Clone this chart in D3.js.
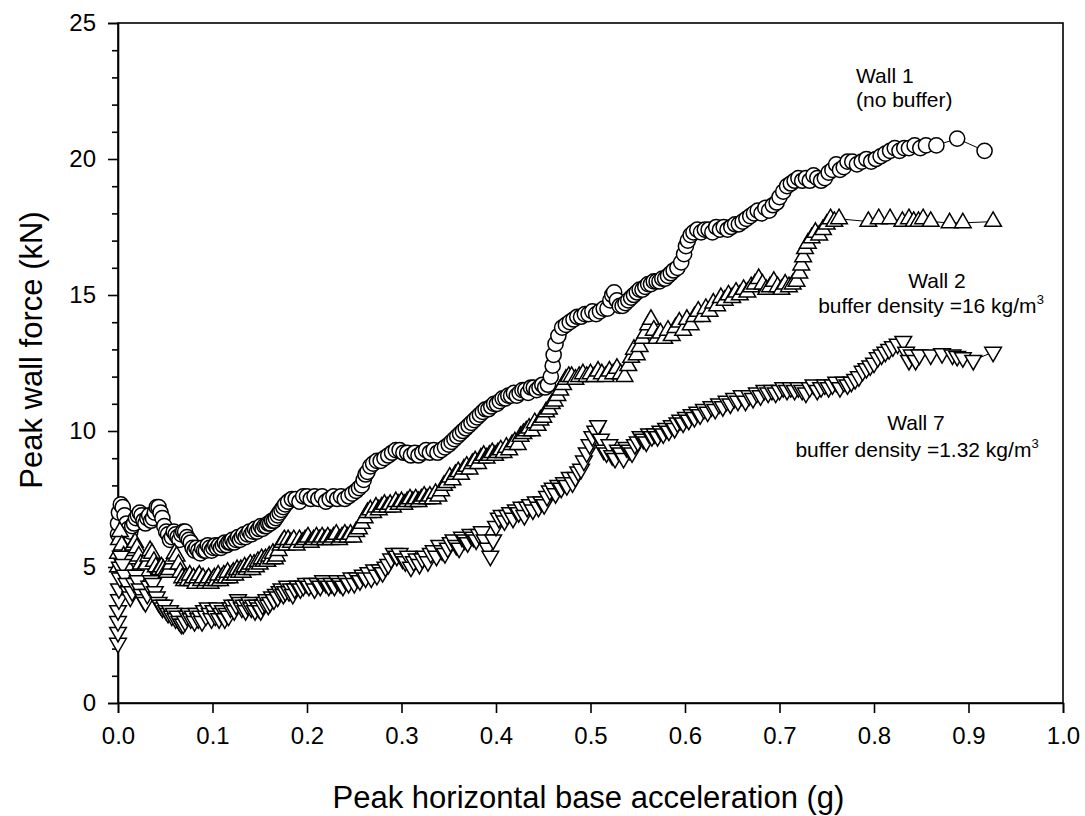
<!DOCTYPE html>
<meta charset="utf-8">
<style>
body { margin: 0; background: #fff; }
text { font-family: "Liberation Sans", Arial, sans-serif; fill: #000; }
.axis text { font-size: 24px; }
.axis path, .axis line { stroke: #000; stroke-width: 1.6; }
.note { font-size: 21px; }
.title { font-size: 31px; }
</style>
<svg width="1085" height="816"></svg>
<script src="https://d3js.org/d3.v7.min.js"></script>
<script>

// [peak base acceleration (g), peak wall force (kN)]

// Wall 1 (no buffer)
var wall1Data = [[0,6.2],[0,6.6],[0.001,7.0],[0.003,7.3],[0.005,7.2],[0.007,6.9],[0.009,6.6],[0.011,6.4],[0.013,6.3],[0.015,6.5],
  [0.017,6.6],[0.019,6.8],[0.021,6.9],[0.023,7.0],[0.025,6.9],[0.027,6.7],[0.029,6.6],[0.031,6.8],[0.033,6.9],[0.035,6.7],
  [0.037,6.8],[0.039,7.0],[0.041,7.2],[0.043,7.2],[0.045,7.0],[0.047,6.8],[0.049,6.5],[0.051,6.3],[0.053,6.2],[0.055,6.0],
  [0.057,6.1],[0.059,6.3],[0.061,6.2],[0.063,6.1],[0.065,6.0],[0.067,6.2],[0.069,6.3],[0.071,6.3],[0.073,6.1],[0.075,6.0],
  [0.077,5.9],[0.079,5.7],[0.081,5.6],[0.083,5.7],[0.085,5.6],[0.087,5.5],[0.089,5.7],[0.091,5.6],[0.093,5.6],[0.095,5.8],
  [0.097,5.7],[0.099,5.6],[0.101,5.7],[0.103,5.8],[0.105,5.7],[0.107,5.8],[0.109,5.7],[0.111,5.8],[0.113,5.9],[0.115,5.8],
  [0.117,5.9],[0.119,5.9],[0.121,6.0],[0.123,5.9],[0.125,6.0],[0.127,6.1],[0.129,6.0],[0.131,6.1],[0.133,6.2],[0.135,6.1],
  [0.137,6.2],[0.139,6.3],[0.141,6.2],[0.143,6.3],[0.145,6.4],[0.147,6.3],[0.149,6.4],[0.151,6.5],[0.153,6.4],[0.155,6.5],
  [0.157,6.5],[0.159,6.6],[0.161,6.6],[0.163,6.7],[0.165,6.7],[0.167,6.8],[0.169,6.9],[0.171,7.0],[0.173,7.1],[0.175,7.2],
  [0.177,7.3],[0.180,7.4],[0.184,7.5],[0.188,7.5],[0.192,7.4],[0.196,7.6],[0.2,7.6],[0.204,7.5],[0.208,7.6],[0.212,7.5],
  [0.216,7.6],[0.22,7.4],[0.224,7.5],[0.228,7.6],[0.232,7.5],[0.236,7.6],[0.24,7.5],[0.244,7.6],[0.248,7.7],[0.252,7.8],
  [0.255,7.9],[0.258,8.0],[0.26,8.2],[0.262,8.4],[0.264,8.5],[0.267,8.7],[0.27,8.8],[0.274,8.9],[0.278,8.9],[0.282,9.0],
  [0.286,9.1],[0.29,9.2],[0.294,9.3],[0.298,9.3],[0.302,9.2],[0.306,9.2],[0.31,9.1],[0.314,9.2],[0.318,9.1],[0.322,9.2],
  [0.326,9.3],[0.33,9.2],[0.334,9.3],[0.338,9.2],[0.342,9.3],[0.346,9.4],[0.35,9.5],[0.353,9.6],[0.356,9.7],[0.359,9.8],
  [0.362,9.9],[0.365,10.0],[0.368,10.1],[0.371,10.2],[0.374,10.3],[0.377,10.4],[0.38,10.5],[0.383,10.6],[0.386,10.7],[0.389,10.8],
  [0.392,10.8],[0.395,10.9],[0.398,11.0],[0.401,11.0],[0.404,11.1],[0.407,11.2],[0.41,11.2],[0.413,11.3],[0.416,11.3],[0.419,11.4],
  [0.422,11.3],[0.425,11.4],[0.428,11.5],[0.431,11.5],[0.434,11.4],[0.437,11.6],[0.44,11.6],[0.443,11.5],[0.446,11.6],[0.449,11.7],
  [0.452,11.6],[0.455,11.7],[0.458,12.0],[0.46,12.4],[0.461,12.8],[0.463,13.2],[0.466,13.5],[0.47,13.8],[0.474,13.9],[0.478,14.0],
  [0.482,14.1],[0.486,14.2],[0.49,14.2],[0.494,14.3],[0.498,14.3],[0.502,14.4],[0.506,14.3],[0.51,14.4],[0.514,14.5],[0.518,14.5],
  [0.521,14.8],[0.523,15.0],[0.525,15.1],[0.528,14.8],[0.531,14.6],[0.534,14.6],[0.537,14.7],[0.54,14.8],[0.543,14.9],[0.546,15.0],
  [0.549,15.1],[0.552,15.2],[0.555,15.2],[0.558,15.3],[0.561,15.4],[0.564,15.4],[0.567,15.5],[0.57,15.5],[0.573,15.5],[0.576,15.6],
  [0.579,15.6],[0.582,15.7],[0.585,15.8],[0.588,15.9],[0.592,16.0],[0.596,16.2],[0.599,16.5],[0.601,16.8],[0.603,17.0],[0.606,17.2],
  [0.609,17.3],[0.613,17.4],[0.617,17.3],[0.621,17.4],[0.625,17.4],[0.629,17.3],[0.633,17.5],[0.637,17.4],[0.641,17.5],[0.645,17.4],
  [0.649,17.5],[0.653,17.6],[0.657,17.6],[0.661,17.7],[0.665,17.8],[0.669,17.9],[0.673,18.0],[0.677,18.1],[0.681,18.0],[0.685,18.2],
  [0.689,18.1],[0.693,18.3],[0.697,18.4],[0.7,18.6],[0.704,18.8],[0.708,19.0],[0.712,19.1],[0.716,19.2],[0.72,19.3],[0.724,19.2],
  [0.728,19.3],[0.732,19.2],[0.736,19.4],[0.74,19.3],[0.744,19.2],[0.748,19.3],[0.752,19.5],[0.756,19.6],[0.76,19.8],[0.764,19.6],
  [0.768,19.7],[0.772,19.9],[0.777,19.9],[0.782,19.8],[0.787,19.9],[0.792,20.0],[0.797,19.9],[0.802,20.0],[0.807,20.1],[0.812,20.2],
  [0.817,20.3],[0.822,20.4],[0.827,20.3],[0.832,20.4],[0.837,20.4],[0.843,20.5],[0.849,20.4],[0.855,20.5],[0.866,20.5],[0.888,20.75],
  [0.917,20.3]];

// Wall 2 (buffer density 16 kg/m3)
var wall2Data = [[0,5.0],[0,5.5],[0.001,6.0],[0.002,6.3],[0.004,5.8],[0.006,5.4],[0.008,5.1],[0.01,5.0],[0.012,5.3],[0.014,5.6],
  [0.016,5.8],[0.018,5.9],[0.02,5.7],[0.022,5.4],[0.024,5.1],[0.026,4.9],[0.028,4.8],[0.03,5.1],[0.032,5.4],[0.034,5.6],
  [0.036,5.5],[0.038,5.2],[0.04,5.0],[0.042,4.8],[0.044,4.9],[0.046,5.0],[0.048,4.9],[0.05,4.8],[0.052,4.8],[0.054,4.9],
  [0.056,5.1],[0.058,5.3],[0.06,5.5],[0.062,5.4],[0.064,5.1],[0.066,4.8],[0.068,4.6],[0.07,4.5],[0.072,4.6],[0.074,4.5],
  [0.076,4.7],[0.078,4.5],[0.08,4.6],[0.082,4.4],[0.084,4.6],[0.086,4.7],[0.088,4.5],[0.09,4.6],[0.092,4.4],[0.094,4.5],
  [0.096,4.6],[0.098,4.4],[0.1,4.5],[0.102,4.6],[0.104,4.5],[0.106,4.7],[0.108,4.5],[0.11,4.6],[0.112,4.7],[0.114,4.6],
  [0.116,4.8],[0.118,4.6],[0.12,4.7],[0.122,4.8],[0.124,4.7],[0.126,4.9],[0.128,4.8],[0.13,4.9],[0.132,4.8],[0.134,5.0],
  [0.136,4.9],[0.138,5.0],[0.14,5.1],[0.142,4.9],[0.144,5.1],[0.146,5.0],[0.148,5.2],[0.15,5.1],[0.152,5.3],[0.154,5.2],
  [0.156,5.3],[0.158,5.2],[0.16,5.4],[0.162,5.3],[0.164,5.5],[0.166,5.3],[0.168,5.4],[0.17,5.6],[0.172,5.8],[0.174,5.9],
  [0.176,6.0],[0.178,5.8],[0.18,6.0],[0.183,5.9],[0.186,6.0],[0.189,5.8],[0.192,6.0],[0.195,5.9],[0.198,6.0],[0.201,6.1],
  [0.204,5.9],[0.207,6.0],[0.21,6.1],[0.213,6.0],[0.216,6.1],[0.219,6.0],[0.222,6.1],[0.225,6.0],[0.228,6.1],[0.231,6.2],
  [0.234,6.0],[0.237,6.1],[0.24,6.2],[0.243,6.1],[0.246,6.2],[0.249,6.1],[0.252,6.3],[0.255,6.4],[0.258,6.6],[0.261,6.8],
  [0.264,7.0],[0.267,7.1],[0.27,7.0],[0.273,7.2],[0.276,7.1],[0.279,7.2],[0.282,7.3],[0.285,7.2],[0.288,7.3],[0.291,7.2],
  [0.294,7.4],[0.297,7.3],[0.3,7.4],[0.303,7.3],[0.306,7.4],[0.309,7.5],[0.312,7.4],[0.315,7.5],[0.318,7.4],[0.321,7.5],
  [0.324,7.6],[0.327,7.5],[0.33,7.6],[0.333,7.5],[0.336,7.7],[0.339,7.6],[0.342,7.8],[0.345,8.0],[0.348,8.1],[0.351,8.3],
  [0.354,8.2],[0.357,8.4],[0.36,8.5],[0.363,8.4],[0.366,8.6],[0.369,8.7],[0.372,8.6],[0.375,8.8],[0.378,8.9],[0.381,8.8],
  [0.384,9.0],[0.387,9.1],[0.39,9.0],[0.393,9.1],[0.396,9.2],[0.399,9.1],[0.402,9.2],[0.405,9.3],[0.408,9.2],[0.411,9.4],
  [0.414,9.3],[0.417,9.5],[0.42,9.6],[0.423,9.5],[0.426,9.8],[0.429,9.9],[0.432,10.0],[0.435,10.1],[0.438,10.0],[0.441,10.3],
  [0.444,10.2],[0.447,10.4],[0.45,10.5],[0.453,10.7],[0.456,10.8],[0.459,11.0],[0.462,11.1],[0.465,11.3],[0.468,11.5],[0.471,11.7],
  [0.474,11.9],[0.477,12.0],[0.48,12.0],[0.484,11.9],[0.488,12.0],[0.492,12.1],[0.496,12.0],[0.5,12.1],[0.504,12.0],[0.508,12.2],
  [0.512,12.1],[0.516,12.0],[0.52,12.2],[0.524,12.1],[0.528,12.3],[0.532,12.1],[0.536,12.0],[0.54,12.4],[0.543,12.7],[0.546,13.0],
  [0.549,12.8],[0.552,13.1],[0.555,13.4],[0.558,13.6],[0.561,13.9],[0.564,14.1],[0.567,13.7],[0.57,13.4],[0.574,13.6],[0.578,13.4],
  [0.582,13.7],[0.586,13.5],[0.59,13.8],[0.594,14.0],[0.598,13.7],[0.602,14.1],[0.606,13.9],[0.61,14.2],[0.614,14.4],[0.618,14.2],
  [0.622,14.5],[0.626,14.4],[0.63,14.7],[0.634,14.6],[0.638,14.9],[0.642,14.8],[0.646,15.0],[0.65,14.9],[0.654,15.1],[0.658,15.0],
  [0.662,15.2],[0.666,15.1],[0.67,15.3],[0.674,15.4],[0.678,15.6],[0.682,15.4],[0.686,15.2],[0.69,15.3],[0.694,15.5],[0.698,15.3],
  [0.702,15.2],[0.706,15.4],[0.71,15.3],[0.714,15.4],[0.718,15.5],[0.721,15.8],[0.723,16.1],[0.725,16.4],[0.727,16.7],[0.73,16.9],
  [0.734,17.1],[0.738,17.3],[0.742,17.2],[0.746,17.4],[0.75,17.6],[0.754,17.8],[0.758,17.7],[0.763,17.8],[0.794,17.7],[0.805,17.8],
  [0.817,17.8],[0.83,17.7],[0.837,17.8],[0.842,17.7],[0.847,17.7],[0.852,17.8],[0.86,17.7],[0.88,17.65],[0.894,17.65],[0.926,17.7]];

// Wall 7 (buffer density 1.32 kg/m3)
var wall7Data = [[0,2.2],[0,2.6],[0,3.0],[0,3.4],[0.001,3.8],[0.001,4.2],[0.002,4.6],[0.002,5.0],[0.003,5.4],[0.005,5.1],
  [0.007,4.7],[0.009,4.4],[0.011,4.1],[0.013,3.9],[0.015,4.1],[0.017,4.4],[0.019,4.7],[0.021,4.5],[0.023,4.2],[0.025,4.0],
  [0.027,3.8],[0.029,3.7],[0.031,4.0],[0.033,4.3],[0.035,4.5],[0.037,4.4],[0.039,4.1],[0.041,3.9],[0.043,3.7],[0.045,3.6],
  [0.047,3.5],[0.049,3.6],[0.051,3.4],[0.053,3.3],[0.055,3.4],[0.057,3.2],[0.059,3.3],[0.061,3.1],[0.063,3.2],[0.065,3.0],
  [0.067,2.9],[0.069,2.9],[0.071,3.0],[0.073,3.2],[0.075,3.3],[0.077,3.1],[0.079,3.2],[0.081,3.0],[0.083,3.3],[0.085,3.1],
  [0.087,3.2],[0.089,3.0],[0.091,3.4],[0.093,3.2],[0.095,3.5],[0.097,3.3],[0.099,3.1],[0.101,3.4],[0.103,3.2],[0.105,3.5],
  [0.107,3.1],[0.109,3.3],[0.111,3.4],[0.113,3.1],[0.115,3.3],[0.117,3.2],[0.119,3.5],[0.121,3.6],[0.123,3.4],[0.125,3.6],
  [0.127,3.8],[0.129,3.7],[0.131,3.5],[0.133,3.6],[0.135,3.4],[0.137,3.6],[0.139,3.7],[0.141,3.5],[0.143,3.6],[0.145,3.4],
  [0.147,3.6],[0.149,3.5],[0.151,3.4],[0.153,3.6],[0.155,3.7],[0.157,3.8],[0.159,3.6],[0.161,3.7],[0.163,3.9],[0.165,3.8],
  [0.167,4.0],[0.169,3.9],[0.171,4.1],[0.173,4.2],[0.175,4.0],[0.177,4.1],[0.179,4.3],[0.181,4.1],[0.183,4.2],[0.185,4.0],
  [0.187,4.2],[0.19,4.3],[0.193,4.2],[0.196,4.3],[0.199,4.4],[0.202,4.3],[0.205,4.4],[0.208,4.2],[0.211,4.4],[0.214,4.3],
  [0.217,4.5],[0.22,4.4],[0.223,4.3],[0.226,4.4],[0.229,4.3],[0.232,4.5],[0.235,4.4],[0.238,4.3],[0.241,4.5],[0.244,4.4],
  [0.247,4.6],[0.25,4.4],[0.253,4.6],[0.256,4.5],[0.259,4.7],[0.262,4.6],[0.265,4.8],[0.268,4.6],[0.271,4.9],[0.274,4.7],
  [0.277,4.9],[0.28,4.8],[0.283,5.0],[0.286,5.1],[0.289,5.3],[0.292,5.5],[0.295,5.4],[0.298,5.5],[0.301,5.3],[0.304,5.2],
  [0.307,5.4],[0.31,5.0],[0.313,5.2],[0.316,5.3],[0.319,5.1],[0.322,5.3],[0.325,5.4],[0.328,5.2],[0.331,5.5],[0.334,5.6],
  [0.337,5.4],[0.34,5.8],[0.343,5.6],[0.346,5.5],[0.349,5.7],[0.352,5.9],[0.355,6.0],[0.358,5.8],[0.361,5.7],[0.364,6.1],
  [0.367,6.0],[0.37,5.9],[0.373,6.2],[0.376,6.1],[0.379,6.0],[0.382,6.2],[0.385,6.3],[0.388,6.0],[0.391,5.7],[0.394,5.4],
  [0.397,6.0],[0.4,6.5],[0.403,6.8],[0.406,6.9],[0.409,6.7],[0.412,6.9],[0.415,7.0],[0.418,6.8],[0.421,7.1],[0.424,7.0],
  [0.427,7.2],[0.43,6.9],[0.433,7.2],[0.436,7.3],[0.439,7.1],[0.442,7.4],[0.445,7.2],[0.448,7.4],[0.451,7.3],[0.454,7.6],
  [0.457,7.8],[0.46,7.9],[0.463,7.7],[0.466,8.0],[0.469,7.9],[0.472,8.1],[0.475,8.0],[0.478,8.3],[0.481,8.1],[0.484,8.3],
  [0.487,8.5],[0.49,8.6],[0.493,8.9],[0.496,9.2],[0.499,9.5],[0.502,9.8],[0.505,10.0],[0.508,10.2],[0.511,9.7],[0.514,9.3],
  [0.517,9.2],[0.52,9.5],[0.523,9.1],[0.526,9.0],[0.529,9.3],[0.532,9.2],[0.535,9.0],[0.538,9.4],[0.541,9.3],[0.544,9.2],
  [0.547,9.5],[0.55,9.6],[0.553,9.8],[0.556,9.7],[0.559,9.6],[0.562,9.9],[0.565,9.8],[0.568,9.9],[0.571,9.8],[0.574,10.0],
  [0.577,9.9],[0.58,10.1],[0.583,10.0],[0.586,10.2],[0.589,10.1],[0.592,10.3],[0.595,10.4],[0.598,10.3],[0.601,10.5],[0.604,10.4],
  [0.607,10.6],[0.61,10.5],[0.613,10.7],[0.616,10.6],[0.62,10.8],[0.624,10.7],[0.628,10.9],[0.632,10.8],[0.636,11.0],[0.64,10.9],
  [0.644,11.1],[0.648,11.0],[0.652,11.2],[0.656,11.1],[0.66,11.3],[0.664,11.1],[0.668,11.3],[0.672,11.2],[0.676,11.4],[0.68,11.3],
  [0.684,11.5],[0.688,11.4],[0.692,11.5],[0.696,11.4],[0.7,11.5],[0.704,11.6],[0.708,11.5],[0.712,11.6],[0.716,11.5],[0.72,11.6],
  [0.724,11.5],[0.728,11.4],[0.732,11.6],[0.736,11.7],[0.74,11.5],[0.744,11.6],[0.748,11.7],[0.752,11.6],[0.756,11.7],[0.76,11.8],
  [0.764,11.6],[0.768,11.8],[0.772,11.7],[0.776,11.8],[0.78,11.9],[0.784,12.0],[0.788,12.2],[0.792,12.3],[0.796,12.4],[0.8,12.5],
  [0.804,12.7],[0.808,12.8],[0.812,12.9],[0.816,13.0],[0.82,13.1],[0.825,13.2],[0.831,13.3],[0.834,12.9],[0.837,12.6],[0.84,12.8],
  [0.844,12.6],[0.848,12.8],[0.86,12.8],[0.872,12.85],[0.883,12.8],[0.888,12.75],[0.894,12.7],[0.905,12.6],[0.926,12.9]];

var xTicks = [0, 0.1, 0.2, 0.3, 0.4, 0.5, 0.6, 0.7, 0.8, 0.9, 1.0];
var yTicks = [0, 5, 10, 15, 20, 25];
var yMinorTicks = [1,2,3,4,6,7,8,9,11,12,13,14,16,17,18,19,21,22,23,24];

var svg = d3.select("svg"),
    margin = {top: 23, right: 22, bottom: 113, left: 118},
    width = +svg.attr("width") - margin.left - margin.right,
    height = +svg.attr("height") - margin.top - margin.bottom,
    g = svg.append("g").attr("transform", "translate(" + margin.left + "," + margin.top + ")");

var x = d3.scaleLinear().domain([0, 1]).range([0, width]);
var y = d3.scaleLinear().domain([0, 25]).range([height, 0]);

// frame
g.append("rect")
  .attr("width", width).attr("height", height)
  .attr("fill", "none").attr("stroke", "#000").attr("stroke-width", 1.6);

// minor y ticks
g.append("g").attr("class", "axis")
  .call(d3.axisLeft(y).tickValues(yMinorTicks).tickSize(6).tickFormat(""))
  .select(".domain").remove();

g.append("g").attr("class", "axis")
  .call(d3.axisLeft(y).tickValues(yTicks).tickSize(10).tickPadding(12).tickFormat(d3.format("d")));

g.append("g").attr("class", "axis")
  .attr("transform", "translate(0," + height + ")")
  .call(d3.axisBottom(x).tickValues(xTicks).tickSize(10).tickPadding(14).tickFormat(d3.format(".1f")));

var line = d3.line()
  .x(function(d) { return x(d[0]); })
  .y(function(d) { return y(d[1]); });

function drawSeries(pts, symbol, rotate) {
  g.append("path").datum(pts)
    .attr("d", line)
    .attr("fill", "none").attr("stroke", "#000").attr("stroke-width", 1);
  g.append("g").selectAll("path").data(pts).enter().append("path")
    .attr("d", symbol)
    .attr("transform", function(d) { return "translate(" + x(d[0]) + "," + y(d[1]) + ")" + (rotate ? " rotate(180)" : ""); })
    .attr("fill", "#fff").attr("stroke", "#000").attr("stroke-width", 1.5);
}

drawSeries(wall1Data, d3.symbol().type(d3.symbolCircle).size(Math.PI * 7.6 * 7.6), false);
drawSeries(wall2Data, d3.symbol().type(d3.symbolTriangle).size(120), false);
drawSeries(wall7Data, d3.symbol().type(d3.symbolTriangle).size(120), true);

// annotations
svg.append("text").attr("class", "note").attr("x", 856).attr("y", 83).text("Wall 1");
svg.append("text").attr("class", "note").attr("x", 856).attr("y", 107).text("(no buffer)");

svg.append("text").attr("class", "note").attr("x", 937).attr("y", 288).attr("text-anchor", "middle").text("Wall 2");
var t2 = svg.append("text").attr("class", "note").attr("x", 931).attr("y", 313).attr("text-anchor", "middle");
t2.append("tspan").text("buffer density =16 kg/m");
t2.append("tspan").attr("dy", -9).attr("font-size", 13).text("3");

svg.append("text").attr("class", "note").attr("x", 916).attr("y", 430).attr("text-anchor", "middle").text("Wall 7");
var t7 = svg.append("text").attr("class", "note").attr("x", 917).attr("y", 457).attr("text-anchor", "middle");
t7.append("tspan").text("buffer density =1.32 kg/m");
t7.append("tspan").attr("dy", -9).attr("font-size", 13).text("3");

// axis titles
svg.append("text").attr("class", "title")
  .attr("x", margin.left + width / 2 - 2).attr("y", 808)
  .attr("text-anchor", "middle")
  .text("Peak horizontal base acceleration (g)");

svg.append("text").attr("class", "title")
  .attr("transform", "translate(42," + (margin.top + height / 2 - 13) + ") rotate(-90)")
  .attr("text-anchor", "middle")
  .text("Peak wall force (kN)");

</script>
